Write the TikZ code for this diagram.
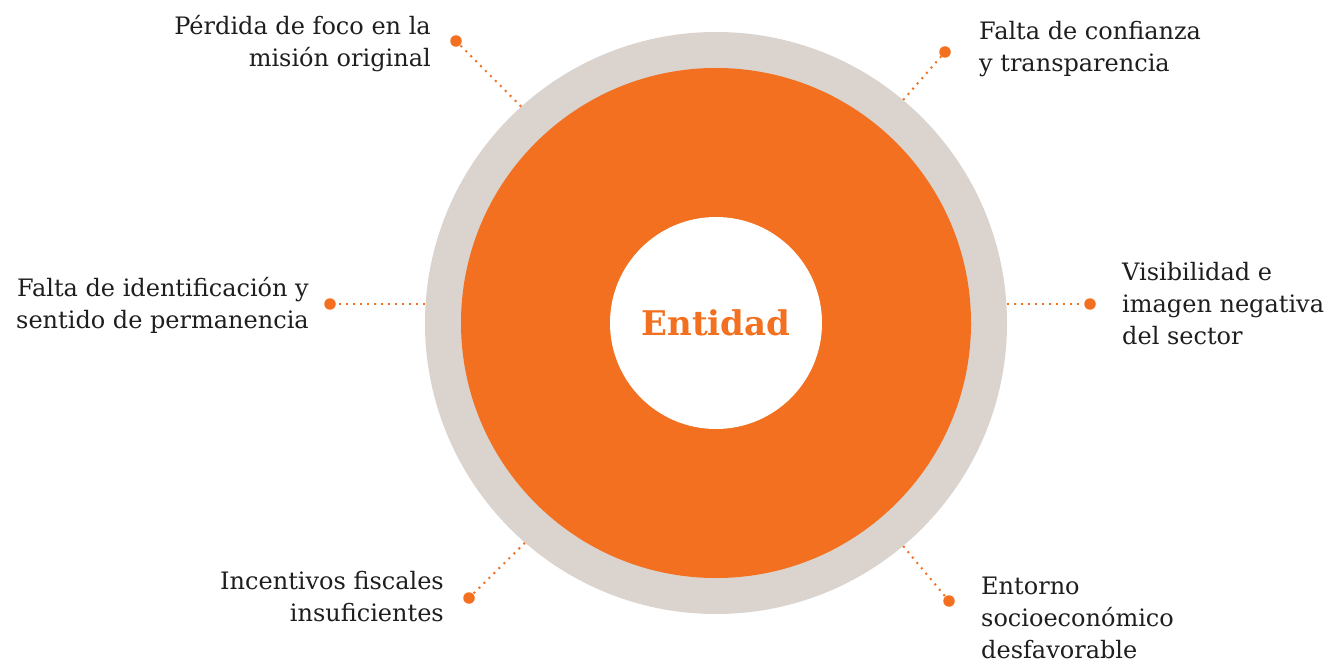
\documentclass[tikz,border=0pt]{standalone}
\usepackage{fontspec}
\setmainfont{DejaVu Serif}
\usepackage{tikz}
\usetikzlibrary{positioning}
\definecolor{pwcorange}{HTML}{F2701F}
\definecolor{ringgrey}{HTML}{DAD3CE}
\definecolor{inkgrey}{HTML}{1E1E1E}

\begin{document}
\begin{tikzpicture}[x=1pt,y=-1pt,
  conn/.style={pwcorange, line width=2pt, dash pattern=on 2pt off 5pt},
  tip/.style={circle, fill=pwcorange, minimum size=11.5pt, inner sep=0pt},
  lbl/.style={text=inkgrey, font=\fontsize{24}{32}\selectfont, inner sep=0pt}]
\useasboundingbox (0,0) rectangle (1331,663);
% Circles
\node[circle, fill=ringgrey, minimum size=582pt, inner sep=0pt] (ring) at (716,323) {};
\node[circle, fill=pwcorange, minimum size=510pt, inner sep=0pt] (core) at (ring) {};
\node[circle, fill=white, minimum size=212pt, inner sep=0pt, text=pwcorange,
  font=\bfseries\fontsize{34}{40}\selectfont] (hub) at (ring) {Entidad};
% Dots
\node[tip] (dotTL) at (456,41) {};
\node[tip] (dotTR) at (945,52) {};
\node[tip] (dotL) at (330,304) {};
\node[tip] (dotR) at (1090,304) {};
\node[tip] (dotBL) at (469,598) {};
\node[tip] (dotBR) at (949,601) {};
% Connectors
\draw[conn] (ring.132) -- (dotTL);
\draw[conn] (ring.50) -- (dotTR);
\draw[conn] (ring.west |- dotL) -- (dotL);
\draw[conn] (ring.east |- dotR) -- (dotR);
\draw[conn] (ring.229) -- (dotBL);
\draw[conn] (ring.310) -- (dotBR);
% Labels
\node[lbl, align=right, anchor=east] (txtTL) at (431,44) {Pérdida de foco en la\\misión original};
\node[lbl, align=left, anchor=west] (txtTR) at (979,49) {Falta de confianza\\y transparencia};
\node[lbl, align=right, anchor=east] (txtL) at (309,305) {Falta de identificación y\\sentido de permanencia};
\node[lbl, align=left, anchor=west] (txtR) at (1122,304) {Visibilidad e\\imagen negativa\\del sector};
\node[lbl, align=right, anchor=east] (txtBL) at (444,597) {Incentivos fiscales\\insuficientes};
\node[lbl, align=left, anchor=west] (txtBR) at (981,618) {Entorno\\socioeconómico\\desfavorable};
\end{tikzpicture}
\end{document}
